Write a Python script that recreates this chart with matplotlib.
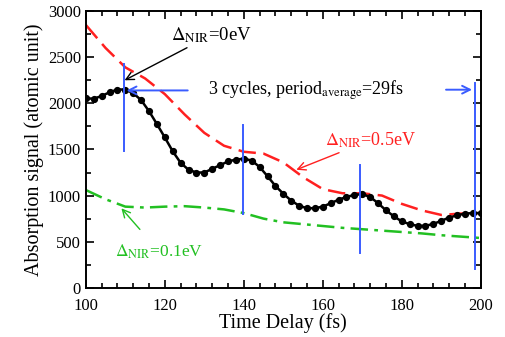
import numpy as np
import matplotlib
matplotlib.use("Agg")
import matplotlib.pyplot as plt
from matplotlib.ticker import MultipleLocator

# black curve (dots), every 2 fs
t_black = np.arange(100, 201, 2)
y_black = [2055, 2050, 2080, 2120, 2150, 2150, 2110, 2035, 1915, 1775,
           1630, 1480, 1355, 1280, 1250, 1250, 1290, 1330, 1370, 1390,
           1400, 1380, 1310, 1210, 1105, 1020, 945, 890, 863, 863,
           880, 917, 955, 985, 1008, 1015, 985, 917, 840, 775,
           720, 690, 672, 672, 693, 726, 762, 785, 805, 810, 810]

# red dashed (0.5 eV) and green dash-dot (0.1 eV)
t_other = np.arange(100, 201, 5)
y_red = [2850, 2600, 2390, 2270, 2100, 1880, 1680, 1540, 1475, 1455,
         1360, 1200, 1070, 1025, 1025, 1000, 910, 840, 790, 805, 810]
y_green = [1060, 960, 880, 870, 880, 885, 870, 850, 810, 750,
           710, 690, 670, 650, 635, 620, 605, 590, 570, 555, 540]

# blue period markers: (x, ymin, ymax)
mark_x = [109.6, 139.7, 169.4, 198.5]
mark_lo = [1480, 800, 380, 200]
mark_hi = [2430, 1760, 1330, 2220]

plt.rcParams["font.family"] = ["Liberation Serif", "DejaVu Serif"]
plt.rcParams["mathtext.fontset"] = "stix"

fig = plt.figure(figsize=(5.05, 3.37), dpi=100)
ax = fig.add_axes([0.170, 0.146, 0.782, 0.821])

ax.plot(t_other, y_red, color="#ff2020", linestyle=(0, (7, 3)), linewidth=1.8)
ax.plot(t_other, y_green, color="#22c022", linestyle=(0, (7, 2.5, 1.5, 2.5)), linewidth=1.8)
ax.plot(t_black, y_black, color="black", linewidth=1.8, marker="o", markersize=4.2)

blue = "#3a5cff"
for x, lo, hi in zip(mark_x, mark_lo, mark_hi):
    ax.plot([x, x], [lo, hi], color=blue, linewidth=1.4)

ax.annotate("", xy=(mark_x[0], 2140), xytext=(126.5, 2140),
            arrowprops=dict(arrowstyle="->", color=blue, lw=1.4, mutation_scale=14))
ax.annotate("", xy=(mark_x[3], 2148), xytext=(190.5, 2148),
            arrowprops=dict(arrowstyle="->", color=blue, lw=1.4, mutation_scale=14))
ax.text(131, 2140, r"3 cycles, period$_{\mathrm{average}}$=29fs",
        fontsize=13, va="center", ha="left")

ax.annotate(r"$\Delta_{\mathrm{NIR}}$=0eV", xy=(109.8, 2250), xytext=(121.5, 2740),
            fontsize=13.5, va="center", ha="left",
            arrowprops=dict(arrowstyle="->", color="black", lw=1, mutation_scale=14,
                            shrinkA=0, shrinkB=0))
ax.annotate(r"$\Delta_{\mathrm{NIR}}$=0.5eV", xy=(153.3, 1280), xytext=(160.5, 1600),
            fontsize=13, va="center", ha="left", color="#ff2020",
            arrowprops=dict(arrowstyle="->", color="#ff2020", lw=1, mutation_scale=14,
                            shrinkA=0, shrinkB=0))
ax.annotate(r"$\Delta_{\mathrm{NIR}}$=0.1eV", xy=(109, 862), xytext=(107.5, 390),
            fontsize=12.5, va="center", ha="left", color="#22c022",
            arrowprops=dict(arrowstyle="->", color="#22c022", lw=1, mutation_scale=14,
                            shrinkA=10, shrinkB=0))

ax.set_xlim(100, 200)
ax.set_ylim(0, 3000)
ax.xaxis.set_major_locator(MultipleLocator(20))
ax.xaxis.set_minor_locator(MultipleLocator(4))
ax.yaxis.set_major_locator(MultipleLocator(500))
ax.yaxis.set_minor_locator(MultipleLocator(250))
ax.tick_params(which="both", direction="in", top=True, right=True, labelsize=12)
ax.tick_params(which="major", length=6, width=1.2)
ax.tick_params(which="minor", length=3.5, width=1.2)
ax.tick_params(axis="x", which="major", pad=7)
for s in ax.spines.values():
    s.set_linewidth(1.4)

ax.set_xlabel("Time Delay (fs)", fontsize=14.5, labelpad=0)
ax.set_ylabel("Absorption signal (atomic unit)", fontsize=14.5, labelpad=3)

fig.savefig("out.png", dpi=100)
